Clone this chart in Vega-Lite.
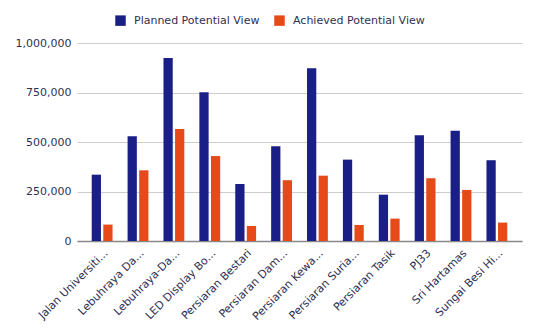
{
  "$schema": "https://vega.github.io/schema/vega-lite/v6.json",
  "width": 445,
  "height": 198,
  "autosize": {"type": "none"},
  "padding": {"left": 77, "top": 43, "right": 17, "bottom": 92},
  "background": "white",
  "config": {
    "font": "DejaVu Sans",
    "view": {"stroke": null},
    "axis": {"labelFont": "DejaVu Sans", "labelColor": "#2f2f55", "labelFontSize": 11},
    "legend": {"labelFont": "DejaVu Sans", "labelColor": "#2f2f55", "labelFontSize": 11}
  },
  "data": {
    "values": [
      {"location": "Jalan Universiti...", "series": "Planned Potential View", "value": 335000},
      {"location": "Jalan Universiti...", "series": "Achieved Potential View", "value": 83000},
      {"location": "Lebuhraya Da...", "series": "Planned Potential View", "value": 529000},
      {"location": "Lebuhraya Da...", "series": "Achieved Potential View", "value": 357000},
      {"location": "Lebuhraya-Da...", "series": "Planned Potential View", "value": 924000},
      {"location": "Lebuhraya-Da...", "series": "Achieved Potential View", "value": 566000},
      {"location": "LED Display Bo...", "series": "Planned Potential View", "value": 751000},
      {"location": "LED Display Bo...", "series": "Achieved Potential View", "value": 429000},
      {"location": "Persiaran Bestari", "series": "Planned Potential View", "value": 288000},
      {"location": "Persiaran Bestari", "series": "Achieved Potential View", "value": 76000},
      {"location": "Persiaran Dam...", "series": "Planned Potential View", "value": 478000},
      {"location": "Persiaran Dam...", "series": "Achieved Potential View", "value": 307000},
      {"location": "Persiaran Kewa...", "series": "Planned Potential View", "value": 872000},
      {"location": "Persiaran Kewa...", "series": "Achieved Potential View", "value": 330000},
      {"location": "Persiaran Suria...", "series": "Planned Potential View", "value": 411000},
      {"location": "Persiaran Suria...", "series": "Achieved Potential View", "value": 81000},
      {"location": "Persiaran Tasik", "series": "Planned Potential View", "value": 234000},
      {"location": "Persiaran Tasik", "series": "Achieved Potential View", "value": 113000},
      {"location": "PJ33", "series": "Planned Potential View", "value": 534000},
      {"location": "PJ33", "series": "Achieved Potential View", "value": 317000},
      {"location": "Sri Hartamas", "series": "Planned Potential View", "value": 557000},
      {"location": "Sri Hartamas", "series": "Achieved Potential View", "value": 258000},
      {"location": "Sungai Besi Hi...", "series": "Planned Potential View", "value": 408000},
      {"location": "Sungai Besi Hi...", "series": "Achieved Potential View", "value": 93000}
    ]
  },
  "mark": {"type": "bar", "strokeWidth": 1},
  "encoding": {
    "x": {
      "field": "location",
      "type": "nominal",
      "sort": null,
      "scale": {"paddingInner": 0, "paddingOuter": 0.2},
      "axis": {
        "title": null,
        "labelAngle": -45,
        "labelAlign": "right",
        "labelBaseline": "top",
        "labelLimit": 0,
        "ticks": false,
        "labelPadding": 6,
        "domainColor": "#888888",
        "domainWidth": 1.5
      }
    },
    "xOffset": {
      "field": "series",
      "type": "nominal",
      "sort": ["Planned Potential View", "Achieved Potential View"],
      "scale": {"paddingInner": 0.2, "paddingOuter": 0.65}
    },
    "y": {
      "field": "value",
      "type": "quantitative",
      "scale": {"domain": [0, 1000000]},
      "axis": {
        "title": null,
        "values": [0, 250000, 500000, 750000, 1000000],
        "format": ",d",
        "domain": false,
        "ticks": false,
        "labelPadding": 6,
        "gridColor": "#cccccc",
        "gridWidth": 1
      }
    },
    "color": {
      "field": "series",
      "type": "nominal",
      "sort": ["Planned Potential View", "Achieved Potential View"],
      "scale": {"domain": ["Planned Potential View", "Achieved Potential View"], "range": ["#1a1f87", "#e64a19"]},
      "legend": {
        "title": null,
        "orient": "none",
        "direction": "horizontal",
        "legendX": 38,
        "legendY": -28,
        "symbolType": "square",
        "symbolSize": 110,
        "symbolStrokeWidth": 0,
        "columnPadding": 14,
        "labelOffset": 8
      }
    }
  }
}
